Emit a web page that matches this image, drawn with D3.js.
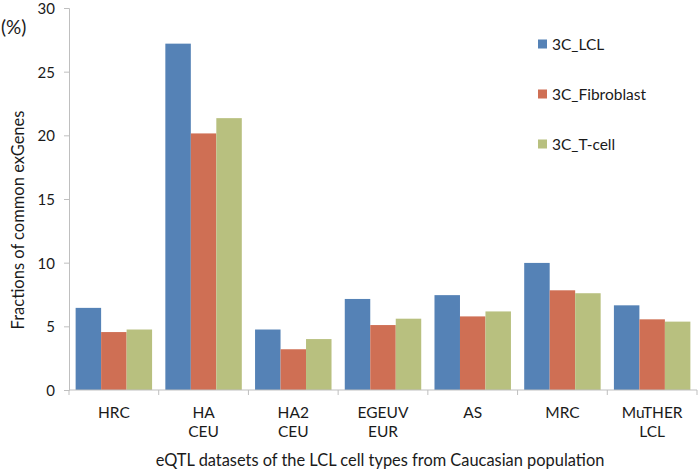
<!DOCTYPE html>
<html><head><meta charset="utf-8">
<script src="https://d3js.org/d3.v7.min.js"></script>
<style>body{margin:0;background:#fff}svg{display:block}text{font-family:Lato,"Open Sans",sans-serif;fill:#1a1a1a}</style>
</head><body><svg id="c" width="700" height="471"></svg>
<script>
const categories = [["HRC"],["HA","CEU"],["HA2","CEU"],["EGEUV","EUR"],["AS"],["MRC"],["MuTHER","LCL"]];
const seriesNames = ["3C_LCL","3C_Fibroblast","3C_T-cell"];
const lcl = [6.45, 27.2, 4.75, 7.15, 7.45, 9.98, 6.65];
const fibroblast = [4.55, 20.15, 3.2, 5.1, 5.78, 7.83, 5.55];
const tcell = [4.75, 21.35, 4.0, 5.6, 6.17, 7.6, 5.37];
const yTicks = [0,5,10,15,20,25,30];
const colors = ["#5582b6","#cf6f54","#b8c07f"];

const svg = d3.select("#c");
const m = {l:69, r:3, t:8, b:81};
const W = 700, H = 471;
const x = d3.scaleBand().domain(d3.range(categories.length)).range([m.l, W - m.r]).paddingInner(0).paddingOuter(0);
const inner = d3.scaleBand().domain(d3.range(3)).range([0, x.bandwidth()]).paddingOuter(0.26).paddingInner(0);
const y = d3.scaleLinear().domain([0,30]).range([H - m.b, m.t]);
const data = [lcl, fibroblast, tcell];

// bars
data.forEach((s, si) => {
  svg.append("g").selectAll("rect").data(s).join("rect")
    .attr("x", (d,i) => x(i) + inner(si))
    .attr("width", inner.bandwidth())
    .attr("y", d => y(d))
    .attr("height", d => y(0) - y(d))
    .attr("fill", colors[si]);
});

// y axis
const ya = svg.append("g").attr("transform", `translate(${m.l},0)`)
  .call(d3.axisLeft(y).tickValues(yTicks).tickSize(5).tickPadding(9));
ya.select(".domain").attr("stroke","#bfbfbf");
ya.selectAll(".tick line").attr("stroke","#bfbfbf");
ya.selectAll(".tick text").attr("font-size", 15).attr("dy","0.36em").attr("fill","#1a1a1a");

// x axis
const xa = svg.append("g").attr("transform", `translate(0,${y(0)})`);
xa.append("line").attr("x1", m.l).attr("x2", W - m.r).attr("stroke","#bfbfbf");
const bounds = d3.range(categories.length + 1).map(i => i < categories.length ? x(i) : x(i-1) + x.bandwidth());
xa.selectAll(".tk").data(bounds).join("line").attr("class","tk")
  .attr("x1", d => d).attr("x2", d => d).attr("y1", 0).attr("y2", 5).attr("stroke","#bfbfbf");
categories.forEach((lines, i) => {
  const t = xa.append("text").attr("text-anchor","middle").attr("font-size", 15.5)
    .attr("x", x(i) + x.bandwidth()/2).attr("y", 28);
  lines.forEach((ln, k) => t.append("tspan").attr("x", x(i) + x.bandwidth()/2).attr("dy", k === 0 ? 0 : 19).text(ln));
});

// axis titles
svg.append("text").attr("x", 380).attr("y", 466).attr("text-anchor","middle").attr("font-size", 16.4)
  .text("eQTL datasets of the LCL cell types from Caucasian population");
svg.append("text").attr("transform","translate(24,220) rotate(-90)").attr("text-anchor","middle").attr("font-size", 16.5)
  .text("Fractions of common exGenes");
svg.append("text").attr("x", 1).attr("y", 34).attr("font-size", 19).text("(%)");

// legend
const lg = svg.append("g");
seriesNames.forEach((n, i) => {
  const cy = 44 + i * 50;
  lg.append("rect").attr("x", 538).attr("y", cy - 4.5).attr("width", 9).attr("height", 9).attr("fill", colors[i]);
  lg.append("text").attr("x", 552).attr("y", cy + 5.5).attr("font-size", 15.5).text(n);
});
</script></body></html>
